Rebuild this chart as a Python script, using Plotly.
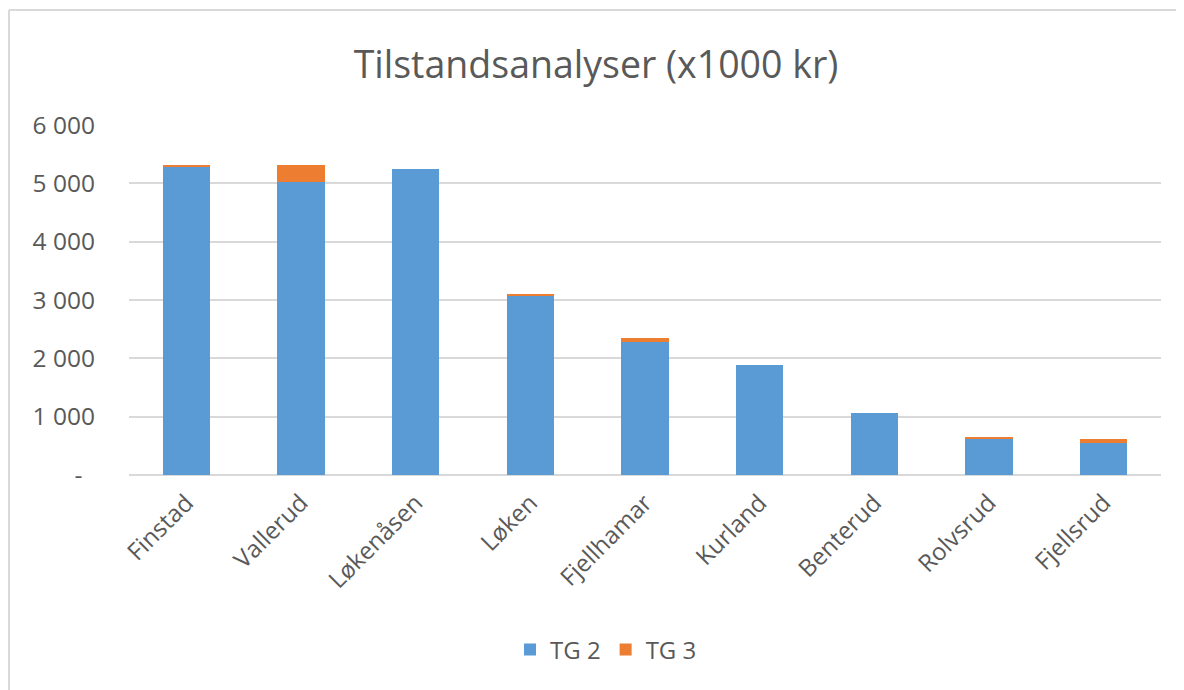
import plotly.graph_objects as go

categories = ["Finstad", "Vallerud", "Løkenåsen", "Løken", "Fjellhamar", "Kurland", "Benterud", "Rolvsrud", "Fjellsrud"]
tg2 = [5290, 5020, 5250, 3075, 2276, 1887, 1069, 612, 549]
tg3 = [30, 295, 0, 18, 75, 0, 0, 45, 63]
y_ticks = [0, 1000, 2000, 3000, 4000, 5000, 6000]
y_tick_labels = ["-\u00a0\u00a0", "1 000", "2 000", "3 000", "4 000", "5 000", "6 000"]

font_family = "Open Sans, Liberation Sans, sans-serif"
grey = "#595959"

fig = go.Figure()
fig.add_trace(go.Bar(x=categories, y=tg2, name="TG 2", marker=dict(color="#5B9BD5", line=dict(width=0)), width=0.41))
fig.add_trace(go.Bar(x=categories, y=tg3, name="TG 3", marker=dict(color="#ED7D31", line=dict(width=0)), width=0.41))

OFF = 8  # page body margin
W, H = 1184 - OFF, 690 - OFF
L, R, T, B = 129 - OFF, 1161 - OFF, 125 - OFF, 475 - OFF
pw, ph = R - L, B - T

def px(x):
    return (x - OFF - L) / pw

def py(y):
    return (B - (y - OFF)) / ph

fig.update_layout(
    barmode="stack",
    width=W, height=H,
    margin=dict(l=L, r=W - R, t=T, b=H - B, pad=0),
    paper_bgcolor="white", plot_bgcolor="white",
    font=dict(family=font_family, color=grey),
    title=dict(text="Tilstandsanalyser (x1000 kr)", x=0.5, xanchor="center", y=1 - (65 - OFF) / H, yanchor="middle",
               font=dict(size=37.5, color=grey, family=font_family)),
    xaxis=dict(tickangle=-45, tickfont=dict(size=24, color=grey), showgrid=False, showline=False,
               ticks="", zeroline=False, ticklabelstandoff=8),
    yaxis=dict(range=[0, 6000], tickvals=y_ticks, ticktext=y_tick_labels, tickfont=dict(size=24.5, color=grey),
               showgrid=True, gridcolor="#d9d9d9", gridwidth=1.5, zeroline=True, zerolinecolor="#d9d9d9",
               zerolinewidth=1.5, showline=False, ticks="", ticklabelstandoff=33),
    legend=dict(orientation="h", x=px(606), xanchor="center", y=py(650), yanchor="middle",
                font=dict(size=24, color=grey), traceorder="normal"),
    bargap=0.59,
    shapes=[
        dict(type="line", xref="paper", yref="paper", x0=px(9), x1=px(9), y0=py(10), y1=py(700),
             line=dict(color="#d9d9d9", width=2)),
        dict(type="line", xref="paper", yref="paper", x0=px(9), x1=px(1200), y0=py(10), y1=py(10),
             line=dict(color="#d9d9d9", width=2)),
    ],
)

fig.write_html("out.html")
